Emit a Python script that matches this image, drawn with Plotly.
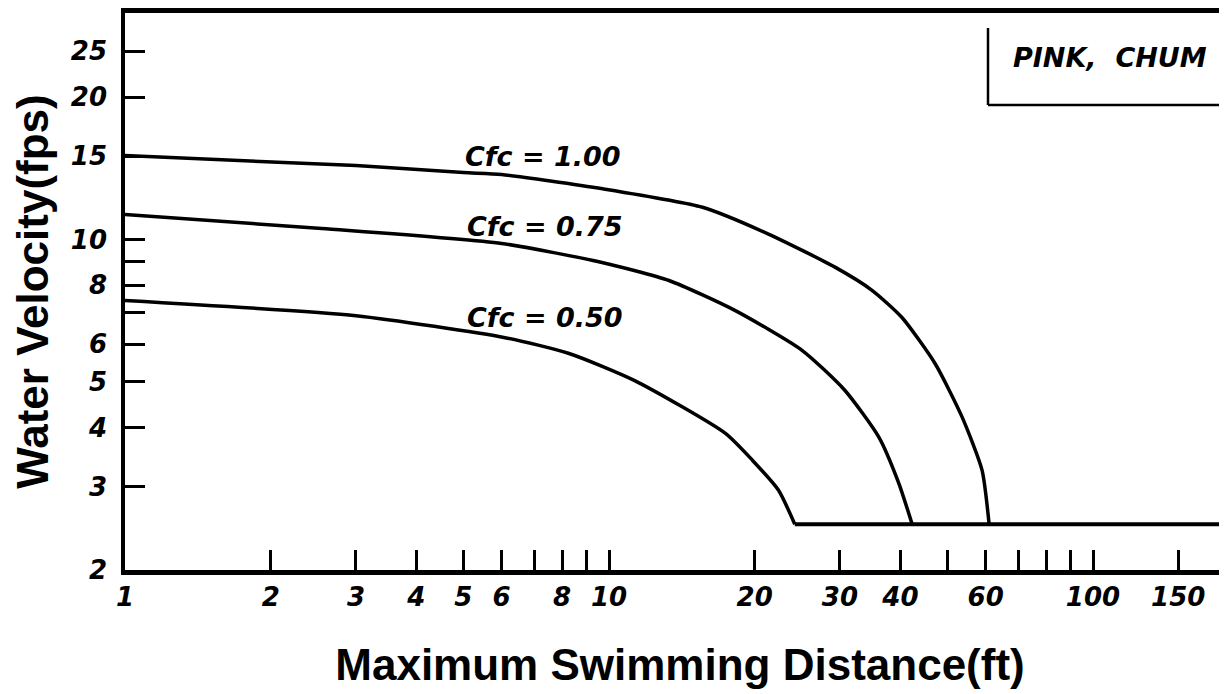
import math
import plotly.graph_objects as go

# ---- data ----
cfc100_x = [1, 3, 5, 6, 9.7, 15.6, 21.3, 29.3, 35, 40.3, 47.2, 53.6, 59, 61]
cfc100_y = [15.05, 14.33, 13.85, 13.72, 12.8, 11.7, 10.28, 8.74, 7.8, 6.84, 5.46, 4.22, 3.25, 2.5]

cfc075_x = [1, 2.55, 6.0, 9.67, 13.3, 18.2, 25.05, 30.7, 36.1, 39.7, 42.3]
cfc075_y = [11.29, 10.55, 9.81, 8.94, 8.19, 7.08, 5.83, 4.80, 3.82, 3.05, 2.5]

cfc050_x = [1, 3.0, 6.1, 8.27, 11.3, 17.4, 19.8, 22.4, 24.2]
cfc050_y = [7.43, 6.9, 6.2, 5.74, 5.03, 3.89, 3.41, 2.95, 2.5]

floor_x = [24.2, 250]
floor_y = [2.5, 2.5]

curve_labels = ["Cfc = 1.00", "Cfc = 0.75", "Cfc = 0.50"]
label_x = [5.0, 5.05, 5.05]
label_y = [15.0, 10.65, 6.85]

x_tick_vals = [1, 2, 3, 4, 5, 6, 7, 8, 9, 10, 20, 30, 40, 50, 60, 70, 80, 90, 100, 150]
x_tick_text = ["1", "2", "3", "4", "5", "6", "", "8", "", "10", "20", "30", "40", "", "60", "", "", "", "100", "150"]
y_tick_vals = [2, 3, 4, 5, 6, 7, 8, 9, 10, 15, 20, 25]
y_tick_text = ["2", "3", "4", "5", "6", "", "8", "", "10", "15", "20", "25"]

species_label = "PINK,  CHUM"
x_title = "Maximum Swimming Distance(ft)"
y_title = "Water Velocity(fps)"

# ---- styling ----
TICK_FONT = dict(family="DejaVu Sans", size=26, color="black", weight="bold", style="italic")
LABEL_FONT = dict(family="DejaVu Sans", size=27, color="black", weight="bold", style="italic")
TITLE_FONT = dict(family="Liberation Sans", size=44, color="black", weight="bold")
LINE = dict(color="black", width=3.5, shape="spline", smoothing=0.6)

ML, MR, MT, MB = 117, 0, 5, 132
W, H = 1227, 694
PW, PH = W - ML - MR, H - MT - MB
X_DECADE = 484.0

fig = go.Figure()
for xs, ys in [(cfc100_x, cfc100_y), (cfc075_x, cfc075_y), (cfc050_x, cfc050_y)]:
    fig.add_trace(go.Scatter(x=xs, y=ys, mode="lines", line=LINE, showlegend=False, hoverinfo="skip"))
fig.add_trace(go.Scatter(x=floor_x, y=floor_y, mode="lines", line=dict(color="black", width=4),
                         showlegend=False, hoverinfo="skip"))

for t, lx, ly in zip(curve_labels, label_x, label_y):
    fig.add_annotation(x=math.log10(lx), y=math.log10(ly), xref="x", yref="y", text=t,
                       showarrow=False, xanchor="left", yanchor="middle", font=LABEL_FONT)

# species box (left and bottom edges; top merges with the frame)
box_x0 = (980 - ML) / PW
box_y0 = (H - MB - 97) / PH
box_y1 = (H - MB - 20) / PH
fig.add_shape(type="line", xref="paper", yref="paper", x0=box_x0, x1=box_x0, y0=box_y0, y1=box_y1,
              line=dict(color="black", width=2.5))
fig.add_shape(type="line", xref="paper", yref="paper", x0=box_x0, x1=1.0, y0=box_y0, y1=box_y0,
              line=dict(color="black", width=2.5))
fig.add_annotation(x=(1003 - ML) / PW, y=(H - MB - 50) / PH, xref="paper", yref="paper",
                   text=species_label, showarrow=False, xanchor="left", yanchor="middle",
                   font=LABEL_FONT)

fig.update_layout(
    width=W, height=H,
    margin=dict(l=ML, r=MR, t=MT, b=MB, pad=0),
    plot_bgcolor="white", paper_bgcolor="white",
    showlegend=False,
    xaxis=dict(
        type="log", range=[0, PW / X_DECADE], showgrid=False, zeroline=False, automargin=False,
        showline=True, linecolor="black", linewidth=4.5, mirror=True,
        ticks="inside", ticklen=20, tickwidth=3, tickcolor="black",
        tickvals=x_tick_vals, ticktext=x_tick_text, tickfont=TICK_FONT,
        title=dict(text=x_title, font=TITLE_FONT, standoff=40),
    ),
    yaxis=dict(
        type="log", range=[math.log10(2), 1.479], showgrid=False, zeroline=False, automargin=False,
        showline=True, linecolor="black", linewidth=3.5,
        ticks="inside", ticklen=20, tickwidth=3, tickcolor="black", ticklabelstandoff=9,
        tickvals=y_tick_vals, ticktext=y_tick_text, tickfont=TICK_FONT,
        title=dict(text=y_title, font=TITLE_FONT, standoff=14),
    ),
)

fig.write_html("out.html")
